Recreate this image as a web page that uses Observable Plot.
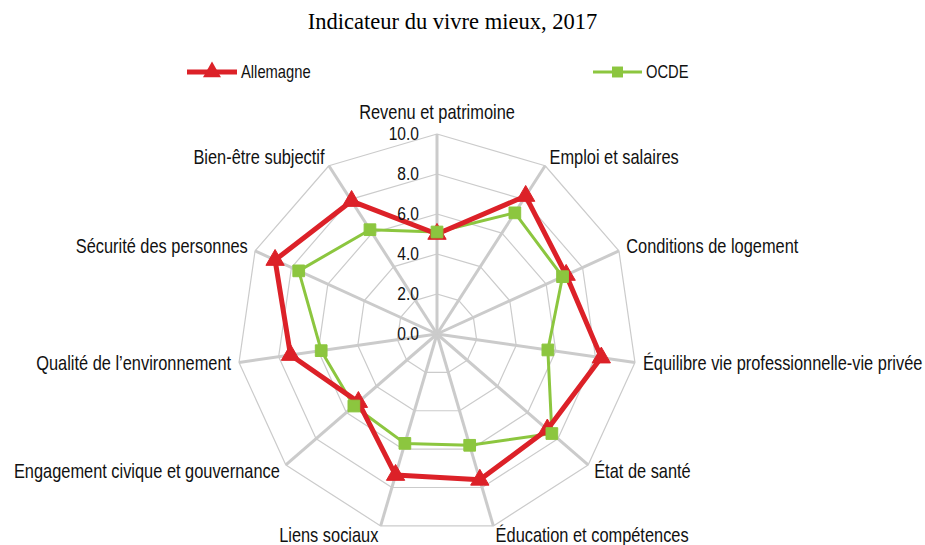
<!DOCTYPE html>
<html>
<head>
<meta charset="utf-8">
<script src="https://cdn.jsdelivr.net/npm/d3@7"></script>
<script src="https://cdn.jsdelivr.net/npm/@observablehq/plot@0.6"></script>
<style>
  html, body { margin: 0; padding: 0; background: #fff; }
  #wrap { width: 925px; height: 545px; position: relative; overflow: hidden; }
  #title { height: 40px; line-height: 44px; text-align: center; padding-right: 20px;
           font-family: "Liberation Serif", "Times New Roman", serif; font-size: 22.5px; color: #000; }
  #legend { height: 50px; display: block; }
  #chart svg { display: block; }
</style>
</head>
<body>
<div id="wrap">
  <div id="title">Indicateur du vivre mieux, 2017</div>
  <svg id="legend" width="925" height="50"></svg>
  <div id="chart"></div>
</div>
<script>
const categories = [
  "Revenu et patrimoine",
  "Emploi et salaires",
  "Conditions de logement",
  "Équilibre vie professionnelle-vie privée",
  "État de santé",
  "Éducation et compétences",
  "Liens sociaux",
  "Engagement civique et gouvernance",
  "Qualité de l’environnement",
  "Sécurité des personnes",
  "Bien-être subjectif"
];
const allemagne = [5.0, 8.2, 7.1, 8.3, 7.3, 7.6, 7.35, 5.2, 7.4, 8.9, 7.9];
const ocde      = [5.1, 7.2, 6.9, 5.6, 7.6, 5.8, 5.7, 5.5, 5.85, 7.6, 6.2];
const tickValues = [0, 2, 4, 6, 8, 10];
const seriesNames = ["Allemagne", "OCDE"];

const RED = "#dc2128", GREEN = "#8cc63f", GRID = "#cbcbcb";
const FONT = "'Liberation Sans', Arial, sans-serif";
const FS_LABEL = 20, FS_TICK = 19, FS_LEGEND = 18, NARROW = 0.82;

const n = categories.length;
const ang = i => i * 2 * Math.PI / n;
const pt = (i, v) => ({x: v * Math.sin(ang(i)), y: v * Math.cos(ang(i))});

// grid rings (every 2.0) and spokes
const rings = [];
tickValues.filter(t => t > 0).forEach(t => {
  for (let i = 0; i <= n; i++) rings.push({ring: t, ...pt(i % n, t)});
});
const spokes = categories.map((c, i) => ({x1: 0, y1: 0, x2: pt(i, 10).x, y2: pt(i, 10).y}));

const closed = arr => arr.map((v, i) => pt(i, v)).concat([pt(0, arr[0])]);
const deLine = closed(allemagne), ocLine = closed(ocde);
const dePts = allemagne.map((v, i) => pt(i, v));
const ocPts = ocde.map((v, i) => pt(i, v));

const labels = categories.map((c, i) => {
  const s = Math.sin(ang(i)), co = Math.cos(ang(i));
  const p = pt(i, 10);
  return {
    ...p, text: c,
    anchor: Math.abs(s) < 0.1 ? "middle" : (s > 0 ? "start" : "end"),
    dx: 8 * s,
    dy: -10 * co - (Math.abs(s) < 0.1 ? 11 : 0)
  };
});

// pixel geometry: center at (436.5, 243.5) in the 455px svg; 1 unit = 20px
const W = 925, H = 455, cx = 436.5, cy = 243.5, k = 20;

const chart = Plot.plot({
  width: W, height: H,
  margin: 0,
  x: {domain: [-cx / k, (W - cx) / k], range: [0, W], axis: null},
  y: {domain: [-(H - cy) / k, cy / k], range: [H, 0], axis: null},
  style: {fontFamily: FONT, background: "transparent"},
  marks: [
    Plot.line(rings, {x: "x", y: "y", z: "ring", stroke: GRID, strokeWidth: 1.2}),
    Plot.link(spokes, {x1: "x1", y1: "y1", x2: "x2", y2: "y2", stroke: GRID, strokeWidth: 3}),
    Plot.line(ocLine, {x: "x", y: "y", stroke: GREEN, strokeWidth: 3, curve: "linear"}),
    Plot.line(deLine, {x: "x", y: "y", stroke: RED, strokeWidth: 5, curve: "linear"}),
    Plot.dot(dePts, {x: "x", y: "y", symbol: "triangle", r: 6.8, fill: RED, stroke: RED, strokeWidth: 1}),
    Plot.dot(ocPts, {x: "x", y: "y", symbol: "square", r: 6.6, fill: GREEN, stroke: GREEN, strokeWidth: 1}),
    Plot.text(tickValues, {x: 0, y: d => d, text: d => d.toFixed(1), textAnchor: "end", dx: -18,
      fontSize: FS_TICK, fill: "#111"}),
    ...labels.map(l => Plot.text([l], {x: "x", y: "y", text: "text", textAnchor: l.anchor,
      dx: l.dx, dy: l.dy, fontSize: FS_LABEL, fill: "#111"}))
  ]
});
document.getElementById("chart").appendChild(chart);

// legend
const lg = d3.select("#legend");
const items = [
  {name: seriesNames[0], x1: 187, x2: 237, color: RED, w: 5, sym: d3.symbolTriangle, size: 140},
  {name: seriesNames[1], x1: 593, x2: 642, color: GREEN, w: 3, sym: d3.symbolSquare, size: 120}
];
items.forEach(it => {
  const y = 32;
  lg.append("line").attr("x1", it.x1).attr("x2", it.x2).attr("y1", y).attr("y2", y)
    .attr("stroke", it.color).attr("stroke-width", it.w);
  lg.append("path").attr("d", d3.symbol(it.sym, it.size)())
    .attr("transform", `translate(${(it.x1 + it.x2) / 2},${y})`).attr("fill", it.color);
  lg.append("text").attr("x", it.x2 + 4).attr("y", y).attr("dy", "0.35em")
    .attr("font-family", FONT).attr("font-size", FS_LEGEND).attr("fill", "#111").text(it.name);
});

// narrow (condensed) look: scale every sans text horizontally about its anchor point
document.querySelectorAll("#chart svg text, #legend text").forEach(t => {
  const ax = (parseFloat(t.getAttribute("x")) || 0) + (parseFloat(t.getAttribute("dx")) || 0);
  const prev = t.getAttribute("transform") || "";
  t.setAttribute("transform",
    `${prev} translate(${ax},0) scale(${NARROW},1) translate(${-ax},0)`.trim());
});
</script>
</body>
</html>
